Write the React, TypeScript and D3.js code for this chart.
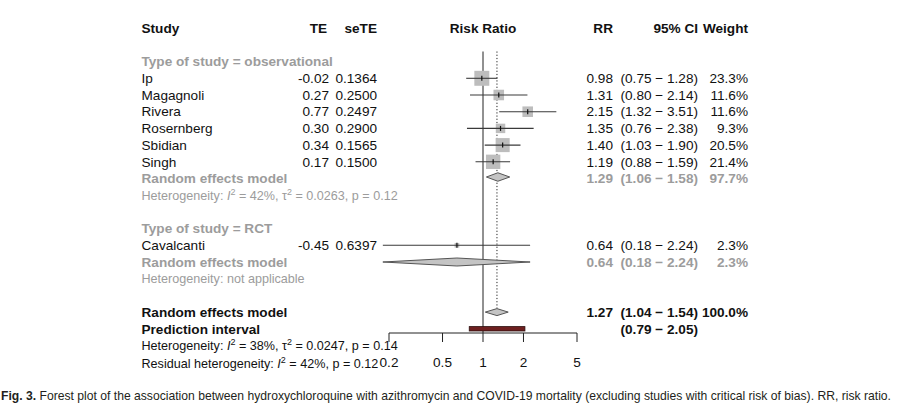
import React from "react";
import * as d3 from "d3";

// ---------- data ----------
const obsStudies = ["Ip", "Magagnoli", "Rivera", "Rosernberg", "Sbidian", "Singh"];
const obsTE = ["-0.02", "0.27", "0.77", "0.30", "0.34", "0.17"];
const obsSeTE = ["0.1364", "0.2500", "0.2497", "0.2900", "0.1565", "0.1500"];
const obsRR = [0.98, 1.31, 2.15, 1.35, 1.4, 1.19];
const obsLower = [0.75, 0.8, 1.32, 0.76, 1.03, 0.88];
const obsUpper = [1.28, 2.14, 3.51, 2.38, 1.9, 1.59];
const obsWeight = [23.3, 11.6, 11.6, 9.3, 20.5, 21.4];

const rctStudies = ["Cavalcanti"];
const rctTE = ["-0.45"];
const rctSeTE = ["0.6397"];
const rctRR = [0.64];
const rctLower = [0.18];
const rctUpper = [2.24];
const rctWeight = [2.3];

const groupLabels = ["Type of study = observational", "Type of study = RCT"];
const groupRR = [1.29, 0.64];
const groupLower = [1.06, 0.18];
const groupUpper = [1.58, 2.24];
const groupWeight = [97.7, 2.3];

const overallRR = 1.27;
const overallLower = 1.04;
const overallUpper = 1.54;
const overallWeight = 100.0;
const predLower = 0.79;
const predUpper = 2.05;

const axisTicks = [0.2, 0.5, 1, 2, 5];
const headers = ["Study", "TE", "seTE", "Risk Ratio", "RR", "95% CI", "Weight"];

const caption =
  " Forest plot of the association between hydroxychloroquine with azithromycin and COVID-19 mortality (excluding studies with critical risk of bias). RR, risk ratio.";

// ---------- layout ----------
const W = 900;
const H = 409;
const FONT = "'Liberation Sans', Arial, sans-serif";
const FS = 13.6;
const FS_HET = 12.6;
const GRAY = "#9c9c9c";
const BLACK = "#111";

const x = d3.scaleLog().domain([0.2, 5]).range([389, 577]);
const row = d3.scaleLinear().domain([0, 1]).range([61.6, 78.3]);

const colStudy = 141.5;
const colTE = 329;
const colSe = 377;
const colRR = 613;
const colCI = 698;
const colW = 748;

const fmt2 = (v: number) => v.toFixed(2);
const ciText = (lo: number, hi: number) => `(${fmt2(lo)} \u2212 ${fmt2(hi)})`;
const wText = (w: number) => `${w.toFixed(1)}%`;

function T(props: any) {
  const { children, ...rest } = props;
  return (
    <text fontFamily={FONT} fontSize={FS} dy="0.35em" fill={BLACK} {...rest}>
      {children}
    </text>
  );
}

function Het({ y, color, parts }: { y: number; color: string; parts: any[] }) {
  return (
    <text x={colStudy} y={y} dy="0.35em" fontFamily={FONT} fontSize={FS_HET} fill={color}>
      {parts}
    </text>
  );
}

function Diamond({ rr, lo, hi, y, h }: { rr: number; lo: number; hi: number; y: number; h: number }) {
  const p = d3.path();
  p.moveTo(x(lo), y);
  p.lineTo(x(rr), y - h / 2);
  p.lineTo(x(hi), y);
  p.lineTo(x(rr), y + h / 2);
  p.closePath();
  return <path d={p.toString()} fill="#c4c4c4" stroke="#555" strokeWidth={1} />;
}

function StudyRow({
  r, name, te, se, rr, lo, hi, w,
}: { r: number; name: string; te: string; se: string; rr: number; lo: number; hi: number; w: number }) {
  const y = row(r);
  const side = 3.1 * Math.sqrt(w);
  return (
    <g>
      <T x={colStudy} y={y}>{name}</T>
      <T x={colTE} y={y} textAnchor="end">{te}</T>
      <T x={colSe} y={y} textAnchor="end">{se}</T>
      <rect x={x(rr) - side / 2} y={y - side / 2} width={side} height={side} fill="#bdbdbd" />
      <line x1={x(lo)} x2={x(hi)} y1={y} y2={y} stroke="#3a3a3a" strokeWidth={1.1} />
      <line x1={x(rr)} x2={x(rr)} y1={y - 2.5} y2={y + 2.5} stroke="#111" strokeWidth={1.2} />
      <T x={colRR} y={y} textAnchor="end">{fmt2(rr)}</T>
      <T x={colCI} y={y} textAnchor="end">{ciText(lo, hi)}</T>
      <T x={colW} y={y} textAnchor="end">{wText(w)}</T>
    </g>
  );
}

const sup = (key: string) => (
  <tspan key={key} dy={-5} fontSize={9}>2</tspan>
);
const back = (key: string, txt: string) => (
  <tspan key={key} dy={5}>{txt}</tspan>
);

export default function App() {
  // rows
  const rObsLabel = 0;
  const rObsFirst = 1;
  const rObsModel = 7;
  const rObsHet = 8;
  const rRctLabel = 10;
  const rRctFirst = 11;
  const rRctModel = 12;
  const rRctHet = 13;
  const rOverall = 15;
  const rPred = 16;
  const rHet = 17;
  const rResid = 18;
  const rHeader = -2;
  const axisY = 333;

  const yHeader = row(rHeader);
  const capScale = 0.86;

  return (
    <svg
      width={W}
      height={H}
      viewBox={`0 0 ${W} ${H}`}
      style={{ position: "absolute", left: 0, top: 0, background: "#fff" }}
    >
      <rect x={0} y={0} width={W} height={H} fill="#fff" />

      {/* headers */}
      <g fontWeight="bold">
        <T x={colStudy} y={yHeader} fontWeight="bold">{headers[0]}</T>
        <T x={colTE - 2} y={yHeader} textAnchor="end" fontWeight="bold">{headers[1]}</T>
        <T x={colSe} y={yHeader} textAnchor="end" fontWeight="bold">{headers[2]}</T>
        <T x={x(1)} y={yHeader} textAnchor="middle" fontWeight="bold">{headers[3]}</T>
        <T x={colRR} y={yHeader} textAnchor="end" fontWeight="bold">{headers[4]}</T>
        <T x={colCI} y={yHeader} textAnchor="end" fontWeight="bold">{headers[5]}</T>
        <T x={colW} y={yHeader} textAnchor="end" fontWeight="bold">{headers[6]}</T>
      </g>

      {/* reference lines */}
      <line x1={x(1)} x2={x(1)} y1={51.5} y2={axisY} stroke="#222" strokeWidth={1} />
      <line
        x1={x(overallRR)}
        x2={x(overallRR)}
        y1={51.5}
        y2={row(rOverall) - 4}
        stroke="#222"
        strokeWidth={1}
        strokeDasharray="1.2,2"
      />

      {/* observational subgroup */}
      <T x={colStudy} y={row(rObsLabel)} fill={GRAY} fontWeight="bold">{groupLabels[0]}</T>
      {obsStudies.map((s, i) => (
        <StudyRow
          key={s}
          r={rObsFirst + i}
          name={s}
          te={obsTE[i]}
          se={obsSeTE[i]}
          rr={obsRR[i]}
          lo={obsLower[i]}
          hi={obsUpper[i]}
          w={obsWeight[i]}
        />
      ))}
      <T x={colStudy} y={row(rObsModel)} fill={GRAY} fontWeight="bold">Random effects model</T>
      <Diamond rr={groupRR[0]} lo={groupLower[0]} hi={groupUpper[0]} y={row(rObsModel) - 1.5} h={8.5} />
      <T x={colRR} y={row(rObsModel)} textAnchor="end" fill={GRAY} fontWeight="bold">{fmt2(groupRR[0])}</T>
      <T x={colCI} y={row(rObsModel)} textAnchor="end" fill={GRAY} fontWeight="bold">{ciText(groupLower[0], groupUpper[0])}</T>
      <T x={colW} y={row(rObsModel)} textAnchor="end" fill={GRAY} fontWeight="bold">{wText(groupWeight[0])}</T>
      <Het
        y={row(rObsHet)}
        color={GRAY}
        parts={[
          "Heterogeneity: ",
          <tspan key="i" fontStyle="italic">I</tspan>,
          sup("s1"),
          back("b1", " = 42%, \u03c4"),
          sup("s2"),
          back("b2", " = 0.0263, p = 0.12"),
        ]}
      />

      {/* RCT subgroup */}
      <T x={colStudy} y={row(rRctLabel)} fill={GRAY} fontWeight="bold">{groupLabels[1]}</T>
      {rctStudies.map((s, i) => (
        <StudyRow
          key={s}
          r={rRctFirst + i}
          name={s}
          te={rctTE[i]}
          se={rctSeTE[i]}
          rr={rctRR[i]}
          lo={rctLower[i]}
          hi={rctUpper[i]}
          w={rctWeight[i]}
        />
      ))}
      <T x={colStudy} y={row(rRctModel)} fill={GRAY} fontWeight="bold">Random effects model</T>
      <Diamond rr={groupRR[1]} lo={groupLower[1]} hi={groupUpper[1]} y={row(rRctModel)} h={8} />
      <T x={colRR} y={row(rRctModel)} textAnchor="end" fill={GRAY} fontWeight="bold">{fmt2(groupRR[1])}</T>
      <T x={colCI} y={row(rRctModel)} textAnchor="end" fill={GRAY} fontWeight="bold">{ciText(groupLower[1], groupUpper[1])}</T>
      <T x={colW} y={row(rRctModel)} textAnchor="end" fill={GRAY} fontWeight="bold">{wText(groupWeight[1])}</T>
      <Het y={row(rRctHet)} color={GRAY} parts={["Heterogeneity: not applicable"]} />

      {/* overall */}
      <T x={colStudy} y={row(rOverall)} fontWeight="bold">Random effects model</T>
      <Diamond rr={overallRR} lo={overallLower} hi={overallUpper} y={row(rOverall)} h={7} />
      <T x={colRR} y={row(rOverall)} textAnchor="end" fontWeight="bold">{fmt2(overallRR)}</T>
      <T x={colCI} y={row(rOverall)} textAnchor="end" fontWeight="bold">{ciText(overallLower, overallUpper)}</T>
      <T x={colW} y={row(rOverall)} textAnchor="end" fontWeight="bold">{wText(overallWeight)}</T>

      <T x={colStudy} y={row(rPred)} fontWeight="bold">Prediction interval</T>
      <rect
        x={x(predLower)}
        y={row(rPred) - 2.2}
        width={x(predUpper) - x(predLower)}
        height={4.4}
        fill="#6e1f1f"
        stroke="#2a0d0d"
        strokeWidth={0.8}
      />
      <T x={colCI} y={row(rPred)} textAnchor="end" fontWeight="bold">{ciText(predLower, predUpper)}</T>

      <Het
        y={row(rHet) + 0.5}
        color={BLACK}
        parts={[
          "Heterogeneity: ",
          <tspan key="i" fontStyle="italic">I</tspan>,
          sup("s1"),
          back("b1", " = 38%, \u03c4"),
          sup("s2"),
          back("b2", " = 0.0247, p = 0.14"),
        ]}
      />
      <Het
        y={row(rResid) + 1.5}
        color={BLACK}
        parts={[
          "Residual heterogeneity: ",
          <tspan key="i" fontStyle="italic">I</tspan>,
          sup("s1"),
          back("b1", " = 42%, p = 0.12"),
        ]}
      />

      {/* axis */}
      <line x1={x(0.2)} x2={x(5)} y1={axisY} y2={axisY} stroke="#222" strokeWidth={1} />
      {axisTicks.map((t) => (
        <g key={t}>
          <line x1={x(t)} x2={x(t)} y1={axisY} y2={axisY + 9} stroke="#222" strokeWidth={1} />
          <T x={x(t)} y={362} textAnchor="middle">{String(t)}</T>
        </g>
      ))}

      {/* caption */}
      <g transform={`scale(${capScale},1)`}>
        <text
          x={1 / capScale}
          y={400}
          fontFamily="'Liberation Sans Narrow', 'Arial Narrow', 'Liberation Sans', sans-serif"
          fontSize={12.5}
          fill="#231f20"
          textLength={890 / capScale}
          lengthAdjust="spacingAndGlyphs"
        >
          <tspan fontWeight="bold">Fig. 3.</tspan>
          {caption}
        </text>
      </g>
    </svg>
  );
}
